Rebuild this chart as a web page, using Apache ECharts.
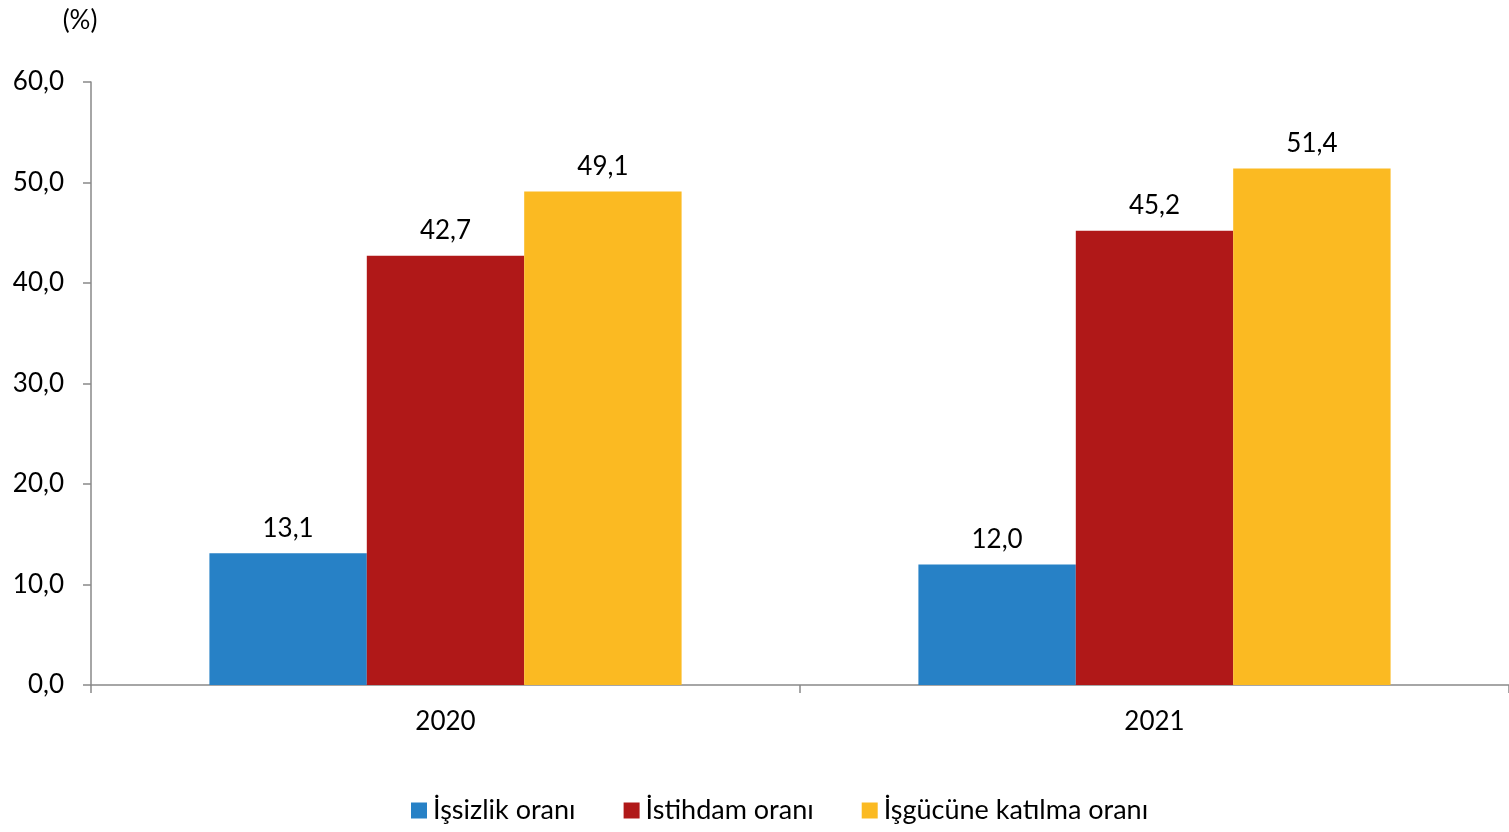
<!DOCTYPE html>
<html><head><meta charset="utf-8">
<script src="https://cdn.jsdelivr.net/npm/echarts@6/dist/echarts.min.js"></script>
<style>html,body{margin:0;padding:0;background:#fff}#c{width:1509px;height:832px}</style>
</head><body><div id="c"></div>
<script>
var categories = ['2020', '2021'];
var seriesNames = ['İşsizlik oranı', 'İstihdam oranı', 'İşgücüne katılma oranı'];
var unemployment = [13.1, 12.0];
var employment = [42.7, 45.2];
var participation = [49.1, 51.4];
var colors = ['#2781C6', '#B01818', '#FBBA22'];
var font = 'Lato, "Open Sans", sans-serif';
function fmt(v){ return v.toFixed(1).replace('.', ','); }
var data = [unemployment, employment, participation];
var chart = echarts.init(document.getElementById('c'));
chart.setOption({
  animation: false,
  grid: {left: 91, right: 0, top: 82, bottom: 147},
  legend: {
    left: 406, bottom: 3, itemWidth: 16, itemHeight: 16, itemGap: 48,
    icon: 'rect',
    textStyle: {fontSize: 27, color: '#000', fontFamily: font, padding: [0,0,0,1]},
    data: seriesNames
  },
  xAxis: {
    type: 'category', data: categories,
    axisLine: {lineStyle: {color: '#898989', width: 1.5}},
    axisTick: {show: true, length: 8, lineStyle: {color: '#898989', width: 1.5}},
    axisLabel: {fontSize: 26, color: '#000', fontFamily: font, margin: 24}
  },
  yAxis: {
    type: 'value', min: 0, max: 60, interval: 10,
    name: '(%)', nameLocation: 'end', nameGap: 48,
    nameTextStyle: {fontSize: 26, color: '#000', fontFamily: font, align: 'center', padding: [0, 0, 0, -22]},
    splitLine: {show: false},
    axisLine: {show: true, lineStyle: {color: '#898989', width: 1.5}},
    axisTick: {show: true, length: 8, lineStyle: {color: '#898989', width: 1.5}},
    axisLabel: {fontSize: 26, color: '#000', fontFamily: font, margin: 27, formatter: function(v){ return fmt(v); }}
  },
  series: seriesNames.map(function(n, i){
    return {
      name: n, type: 'bar', data: data[i],
      barGap: '0%', barCategoryGap: '33.4%',
      itemStyle: {color: colors[i]},
      label: {show: true, position: 'top', distance: 12, fontSize: 26, color: '#000', fontFamily: font,
        formatter: function(p){ return fmt(p.value); }}
    };
  })
});
</script></body></html>
